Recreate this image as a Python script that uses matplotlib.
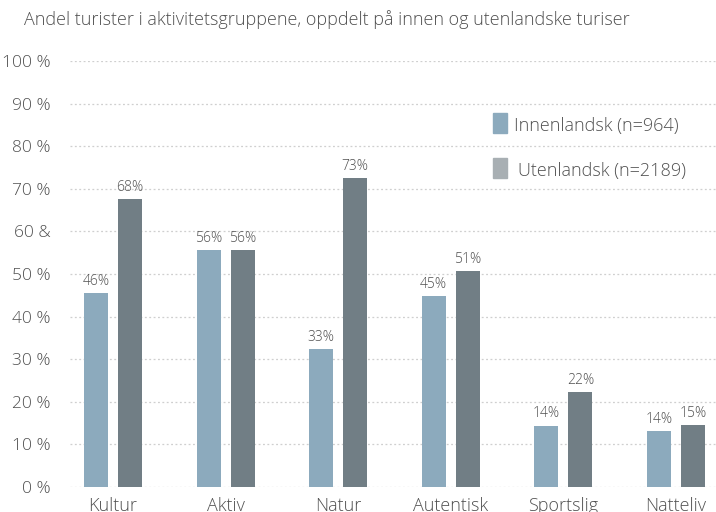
import matplotlib
matplotlib.use("Agg")
import matplotlib.pyplot as plt
from matplotlib.patches import Rectangle
import numpy as np

categories = ["Kultur", "Aktiv", "Natur", "Autentisk", "Sportslig", "Natteliv"]
innen = [45.5, 55.7, 32.4, 44.8, 14.4, 13.1]
uten = [67.5, 55.7, 72.6, 50.7, 22.3, 14.5]
innen_labels = ["46%", "56%", "33%", "45%", "14%", "14%"]
uten_labels = ["68%", "56%", "73%", "51%", "22%", "15%"]
yticks = [0, 10, 20, 30, 40, 50, 60, 70, 80, 90, 100]
ytick_labels = ["0 %", "10 %", "20 %", "30 %", "40 %", "50 %", "60 &", "70 %", "80 %", "90 %", "100 %"]
legend_labels = ["Innenlandsk (n=964)", "Utenlandsk (n=2189)"]
title = "Andel turister i aktivitetsgruppene, oppdelt på innen og utenlandske turiser"

c_innen = "#8CAABD"
c_uten = "#717E85"
c_uten_leg = "#A8AFB3"
txt = "#505050"

plt.rcParams['font.family'] = ['Open Sans', 'DejaVu Sans']
plt.rcParams['font.weight'] = 300

W, H = 716, 512
fig = plt.figure(figsize=(W / 100, H / 100), dpi=100)
ax_left, ax_right = 70, 716
ax_top, ax_bot = 61, 487
ax = fig.add_axes([ax_left / W, (H - ax_bot) / H, (ax_right - ax_left) / W, (ax_bot - ax_top) / H])

spacing = 112.6
c0 = 113
x = np.arange(len(categories))
ax.set_xlim((ax_left - c0) / spacing, (ax_right - c0) / spacing)
ax.set_ylim(0, 100)

bw = 24 / spacing
off = 17 / spacing
ax.bar(x - off, innen, width=bw, color=c_innen, zorder=3)
ax.bar(x + off, uten, width=bw, color=c_uten, zorder=3)

for xi, v, lab in zip(x - off, innen, innen_labels):
    ax.annotate(lab, (xi, v), xytext=(0, 3), textcoords="offset points",
                ha="center", va="bottom", fontsize=10, color=txt)
for xi, v, lab in zip(x + off, uten, uten_labels):
    ax.annotate(lab, (xi, v), xytext=(0, 3), textcoords="offset points",
                ha="center", va="bottom", fontsize=10, color=txt)

ax.set_yticks(yticks)
ax.set_yticklabels(ytick_labels, fontsize=12.5, color=txt)
ax.set_xticks(x)
ax.set_xticklabels(categories, fontsize=13, color=txt)
ax.tick_params(axis="both", length=0)
ax.tick_params(axis="y", pad=14)
ax.tick_params(axis="x", pad=7)
for s in ax.spines.values():
    s.set_visible(False)
ax.yaxis.grid(True, color="#CFCFCF", linestyle=(0, (1.5, 2)), linewidth=0.9, zorder=0)
ax.set_axisbelow(True)

fig.text(24 / W, 1 - 20 / H, title, fontsize=13, color=txt, ha="left", va="center")

# legend
for i, (lab, col) in enumerate(zip(legend_labels, [c_innen, c_uten_leg])):
    y_top = 113 + i * 45
    fig.patches.append(Rectangle((493 / W, 1 - (y_top + 20) / H), 14 / W, 20 / H,
                                 transform=fig.transFigure, color=col))
    fig.text((514 + i * 4) / W, 1 - (y_top + 13) / H, lab, fontsize=13,
             color=txt, ha="left", va="center")

fig.savefig("out.png", dpi=100)
